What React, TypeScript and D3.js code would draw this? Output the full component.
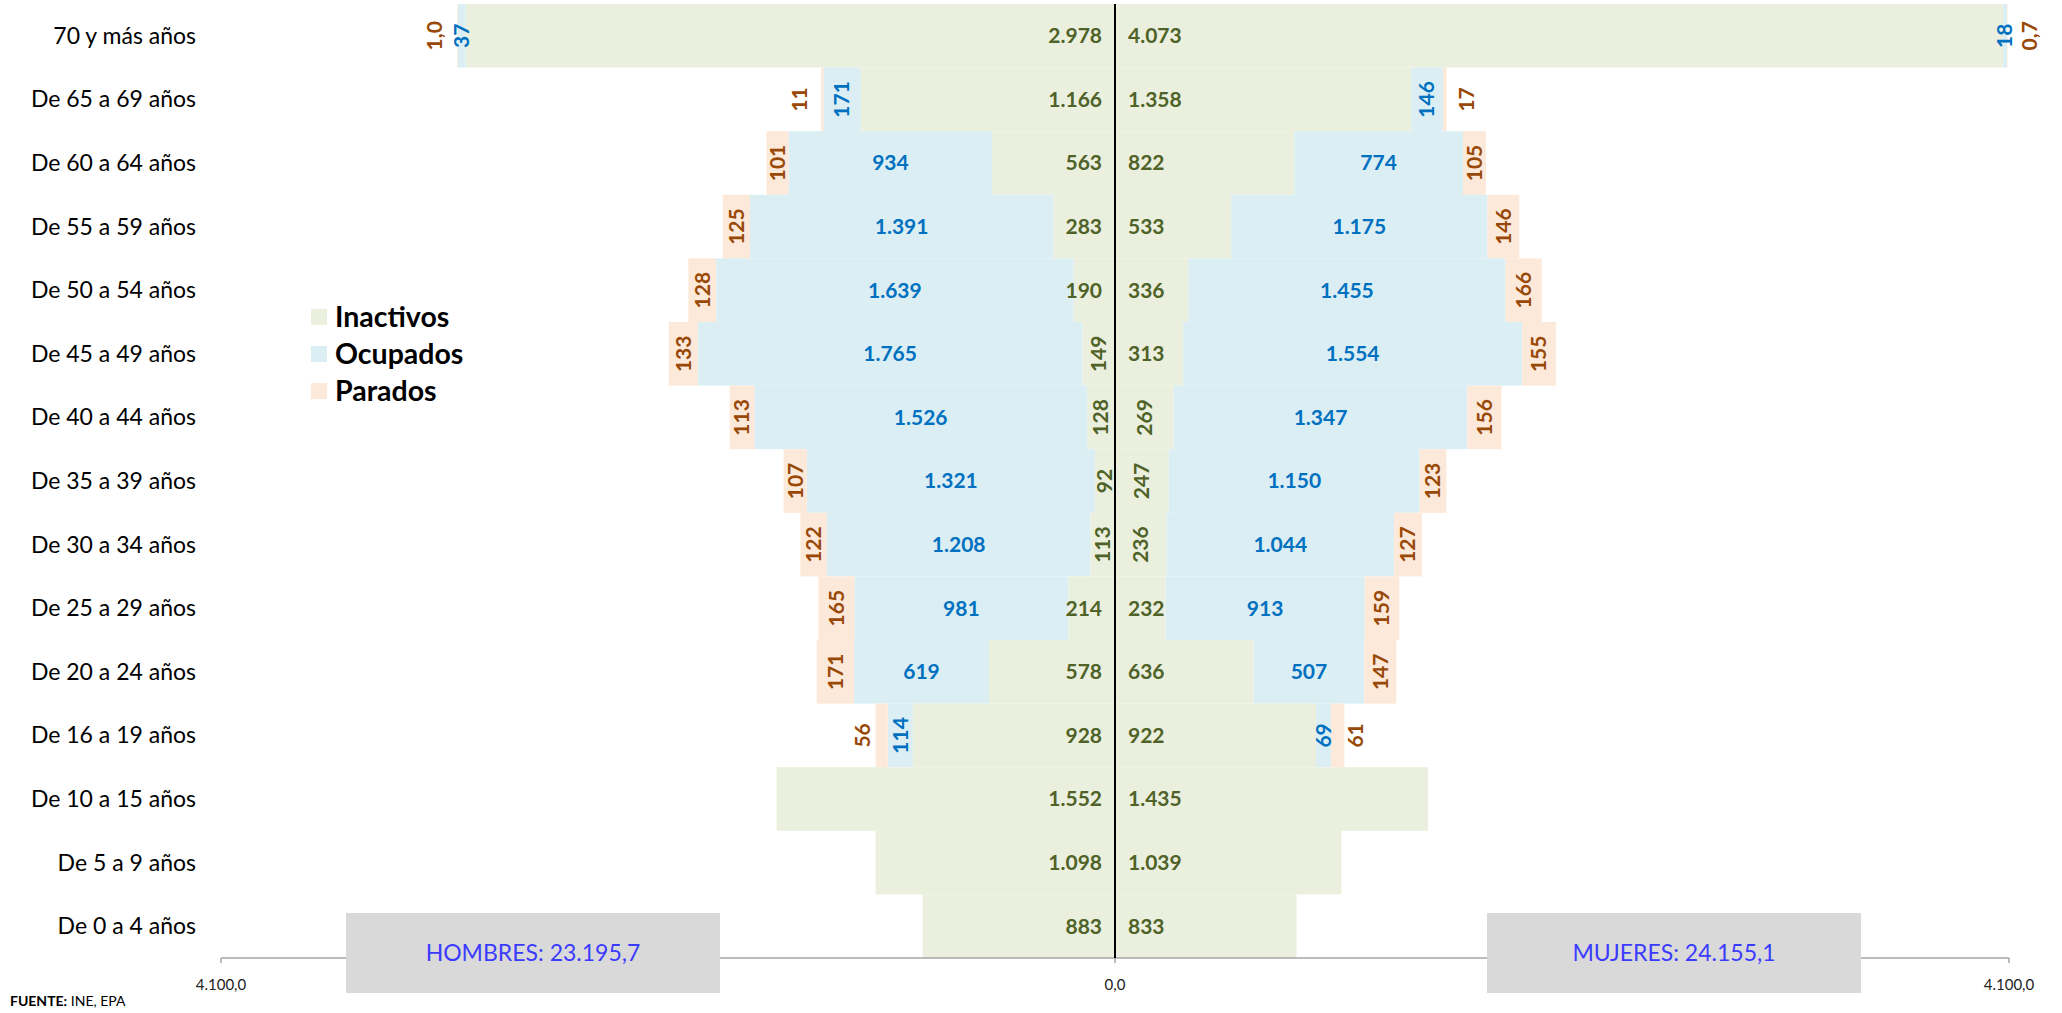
import React from 'react'
import * as d3 from 'd3'

const CATEGORIES = [
  '70 y más años', 'De 65 a 69 años', 'De 60 a 64 años', 'De 55 a 59 años',
  'De 50 a 54 años', 'De 45 a 49 años', 'De 40 a 44 años', 'De 35 a 39 años',
  'De 30 a 34 años', 'De 25 a 29 años', 'De 20 a 24 años', 'De 16 a 19 años',
  'De 10 a 15 años', 'De 5 a 9 años', 'De 0 a 4 años'
]

const MEN_INACTIVOS = [2978, 1166, 563, 283, 190, 149, 128, 92, 113, 214, 578, 928, 1552, 1098, 883]
const MEN_OCUPADOS = [37, 171, 934, 1391, 1639, 1765, 1526, 1321, 1208, 981, 619, 114, null, null, null]
const MEN_PARADOS = [1.0, 11, 101, 125, 128, 133, 113, 107, 122, 165, 171, 56, null, null, null]

const WOMEN_INACTIVOS = [4073, 1358, 822, 533, 336, 313, 269, 247, 236, 232, 636, 922, 1435, 1039, 833]
const WOMEN_OCUPADOS = [18, 146, 774, 1175, 1455, 1554, 1347, 1150, 1044, 913, 507, 69, null, null, null]
const WOMEN_PARADOS = [0.7, 17, 105, 146, 166, 155, 156, 123, 127, 159, 147, 61, null, null, null]

const SERIES = ['Inactivos', 'Ocupados', 'Parados']
const TOTALS = ['HOMBRES: 23.195,7', 'MUJERES: 24.155,1']
const AXIS_MAX = 4100

// inactive labels that Excel turned sideways
const ROTATED_INACTIVE = {
  men: ['De 45 a 49 años', 'De 40 a 44 años', 'De 35 a 39 años', 'De 30 a 34 años'],
  women: ['De 40 a 44 años', 'De 35 a 39 años', 'De 30 a 34 años']
}

const FILL = ['#ebf0de', '#daeef3', '#fde9d9']
const TEXT = ['#4f6228', '#0070c0', '#984807']

const W = 2062
const H = 1013
const CX = 1115
const HALF = 894

const locale = d3.formatLocale({ decimal: ',', thousands: '.', grouping: [3], currency: ['', ''] })
const fmtInt = locale.format(',d')
const fmtDec = locale.format(',.1f')
const fmt = (v: number) => (v < 2 ? fmtDec(v) : fmtInt(v))

const FONT = 'Lato, "Open Sans", sans-serif'

export default function App() {
  const x = d3.scaleLinear().domain([0, AXIS_MAX]).range([0, HALF])
  const y = d3.scaleBand().domain(CATEGORIES).range([4, 958]).padding(0)
  const bw = y.bandwidth()

  const side = (dir: number, inact: number[], ocup: (number | null)[], par: (number | null)[], key: string) => {
    const rects: any[] = []
    const labels: any[] = []
    CATEGORIES.forEach((c, i) => {
      const yy = y(c) as number
      const ym = yy + bw / 2
      const vals = [inact[i], ocup[i], par[i]]
      let acc = 0
      vals.forEach((v, s) => {
        if (v == null) return
        const a = CX + dir * x(acc)
        const b = CX + dir * x(acc + v)
        acc += v
        const x0 = Math.min(a, b)
        const w = Math.abs(b - a)
        rects.push(<rect key={`${key}r${i}${s}`} x={x0} y={yy} width={Math.max(w, 0.5)} height={bw} fill={FILL[s]} />)
        const txt = fmt(v)
        const mid = (a + b) / 2
        let lx = mid
        let rotate = s > 0 ? (s === 2 || w < 60) : false
        let anchor = 'middle'
        if (s === 0) {
          const rotList = key === 'm' ? ROTATED_INACTIVE.men : ROTATED_INACTIVE.women
          if (rotList.includes(c)) {
            rotate = true
          } else {
            lx = CX + dir * 13
            anchor = dir < 0 ? 'end' : 'start'
          }
        }
        // narrow unemployed segments: label sits just outside the bar
        if (s === 2 && w < 16) lx = b + dir * (23 - 0.85 * w)
        if (rotate) {
          labels.push(
            <text key={`${key}t${i}${s}`} transform={`translate(${lx},${ym}) rotate(-90)`} textAnchor="middle"
              dy="0.35em" fill={TEXT[s]} fontSize={21} fontWeight="bold">{txt}</text>
          )
        } else {
          labels.push(
            <text key={`${key}t${i}${s}`} x={lx} y={ym} textAnchor={anchor} dy="0.35em"
              fill={TEXT[s]} fontSize={21} fontWeight="bold">{txt}</text>
          )
        }
      })
    })
    return { rects, labels }
  }

  const men = side(-1, MEN_INACTIVOS, MEN_OCUPADOS, MEN_PARADOS, 'm')
  const women = side(1, WOMEN_INACTIVOS, WOMEN_OCUPADOS, WOMEN_PARADOS, 'w')
  const axisY = 958
  const ticks = [-AXIS_MAX, 0, AXIS_MAX]

  return (
    <svg width={W} height={H} style={{ position: 'absolute', left: 0, top: 0, background: '#fff' }} fontFamily={FONT}>
      {men.rects}
      {women.rects}
      <line x1={CX - HALF} x2={CX + HALF} y1={axisY} y2={axisY} stroke="#a6a6a6" strokeWidth={1.5} />
      {ticks.map(t => (
        <g key={t}>
          <line x1={CX + Math.sign(t) * x(Math.abs(t))} x2={CX + Math.sign(t) * x(Math.abs(t))} y1={axisY} y2={axisY + 5} stroke="#a6a6a6" strokeWidth={1.5} />
          <text x={CX + Math.sign(t) * x(Math.abs(t))} y={axisY + 32} textAnchor="middle" fontSize={15} fill="#222">{fmtDec(Math.abs(t))}</text>
        </g>
      ))}
      <line x1={CX} x2={CX} y1={4} y2={axisY} stroke="#000" strokeWidth={2} />
      {men.labels}
      {women.labels}
      {CATEGORIES.map(c => (
        <text key={c} x={196} y={(y(c) as number) + bw / 2} dy="0.35em" textAnchor="end" fontSize={23} fill="#000">{c}</text>
      ))}
      {SERIES.map((s, i) => (
        <g key={s} transform={`translate(311,${317 + i * 37})`}>
          <rect x={0} y={-8} width={16} height={16} fill={FILL[i]} />
          <text x={24} y={0} dy="0.36em" fontSize={28.5} fontWeight="bold" fill="#000">{s}</text>
        </g>
      ))}
      {[346, 1487].map((bx, i) => (
        <g key={bx}>
          <rect x={bx} y={913} width={374} height={80} fill="#d9d9d9" />
          <text x={bx + 187} y={953} dy="0.35em" textAnchor="middle" fontSize={23} fill="#3b3bff">{TOTALS[i]}</text>
        </g>
      ))}
      <text x={10} y={1006} fontSize={14} fill="#000">
        <tspan fontWeight="bold">FUENTE:</tspan> INE, EPA
      </text>
    </svg>
  )
}
